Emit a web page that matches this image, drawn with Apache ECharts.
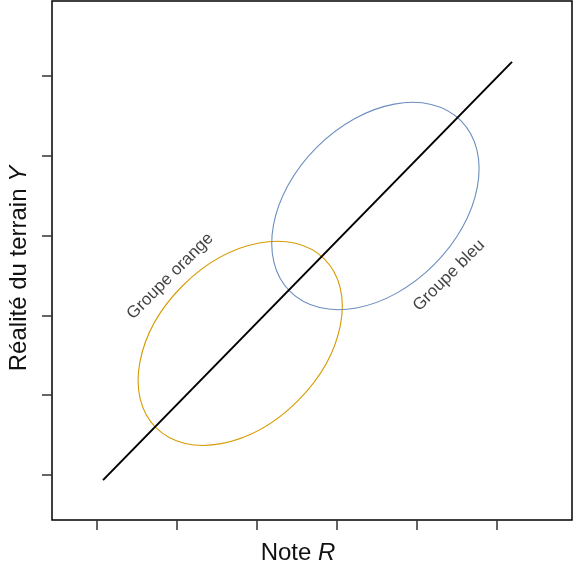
<!DOCTYPE html>
<html>
<head>
<meta charset="utf-8">
<script src="https://cdn.jsdelivr.net/npm/echarts@6/dist/echarts.min.js"></script>
<style>
  html, body { margin: 0; padding: 0; background: #fff; }
  #chart { width: 574px; height: 581px; }
</style>
</head>
<body>
<div id="chart"></div>
<script>
// axis ticks (no labels shown)
var tickValues = [1, 2, 3, 4, 5, 6];

// diagonal line R -> Y
var lineX = [1.075, 6.1875];
var lineY = [0.9375, 6.175];

// groups: centre, semi-axes (data units), tilt in degrees
var groupNames = ['Groupe orange', 'Groupe bleu'];
var groupCx = [2.79, 4.48];
var groupCy = [2.65, 4.37];
var groupRx = [1.49, 1.51];
var groupRy = [1.02, 1.04];
var groupTilt = [45, 45];
var groupColors = ['#d79b00', '#6c8ebf'];

// label anchors (data units)
var labelX = [1.915, 5.40];
var labelY = [3.49, 3.50];

var chart = echarts.init(document.getElementById('chart'), null, { renderer: 'canvas' });

var ellipseData = groupNames.map(function (n, i) {
  return [groupCx[i], groupCy[i], groupRx[i], groupRy[i], groupTilt[i], i];
});

var labelData = groupNames.map(function (n, i) {
  return { value: [labelX[i], labelY[i]], name: n };
});

var titleRich = {
  a: { fontFamily: 'Liberation Sans, Arial', fontSize: 24, color: '#111' },
  i: { fontFamily: 'Liberation Sans, Arial', fontSize: 24, color: '#111', fontStyle: 'italic' }
};

var option = {
  animation: false,
  grid: {
    left: 52, right: 2, top: 1, bottom: 61,
    outerBoundsMode: 'none',
    containLabel: false,
    show: true, borderColor: '#000', borderWidth: 1.5
  },
  xAxis: {
    type: 'value',
    min: 0.4375, max: 6.9375,
    axisLine: { show: false },
    splitLine: { show: false },
    axisLabel: { show: false },
    axisTick: {
      show: true, inside: false, length: 10,
      customValues: tickValues,
      lineStyle: { color: '#333', width: 1.5 }
    },
    name: '{a|Note }{i|R}',
    nameLocation: 'middle',
    nameGap: 21,
    nameTextStyle: { padding: [0, 28, 0, 0], rich: titleRich }
  },
  yAxis: {
    type: 'value',
    min: 0.4375, max: 6.9375,
    axisLine: { show: false },
    splitLine: { show: false },
    axisLabel: { show: false },
    axisTick: {
      show: true, inside: false, length: 10,
      customValues: tickValues,
      lineStyle: { color: '#333', width: 1.5 }
    },
    name: '{a|Réalité du terrain }{i|Y}',
    nameLocation: 'middle',
    nameGap: 21,
    nameTextStyle: { padding: [0, 16, 0, 0], rich: titleRich }
  },
  series: [
    {
      type: 'custom',
      data: ellipseData,
      renderItem: function (params, api) {
        var c = api.coord([api.value(0), api.value(1)]);
        var s = api.size([api.value(2), api.value(3)]);
        var idx = api.value(5);
        return {
          type: 'ellipse',
          x: c[0], y: c[1],
          rotation: api.value(4) * Math.PI / 180,
          shape: { cx: 0, cy: 0, rx: s[0], ry: s[1] },
          style: { fill: 'none', stroke: groupColors[idx], lineWidth: 1.1 }
        };
      },
      z: 2
    },
    {
      type: 'line',
      data: [[lineX[0], lineY[0]], [lineX[1], lineY[1]]],
      symbol: 'none',
      lineStyle: { color: '#000', width: 2 },
      z: 3
    },
    {
      type: 'scatter',
      data: labelData,
      symbolSize: 0,
      label: {
        show: true,
        position: 'inside',
        formatter: '{b}',
        rotate: 45,
        fontFamily: 'Liberation Sans, Arial',
        fontSize: 17,
        color: '#111'
      },
      z: 4
    }
  ]
};

chart.setOption(option);
</script>
</body>
</html>
